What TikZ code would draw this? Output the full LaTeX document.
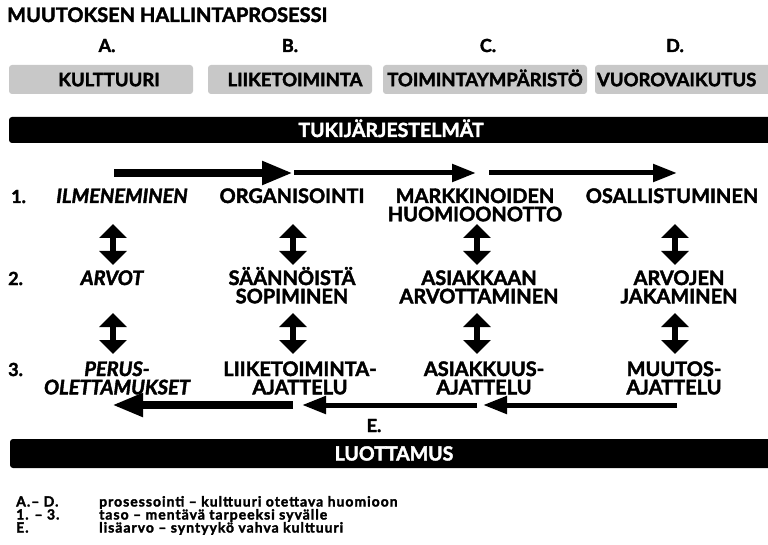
\documentclass[tikz,border=0pt]{standalone}
\usepackage{fontspec}
\setmainfont{Lato}[BoldFeatures={FakeBold=2},BoldItalicFeatures={FakeBold=2}]
\usetikzlibrary{arrows.meta}
\definecolor{boxgray}{RGB}{200,200,200}

\begin{document}
\begin{tikzpicture}[x=1pt,y=-1pt,
	lbl/.style={font=\bfseries\fontsize{20}{18.3}\selectfont, align=center, anchor=base, inner sep=0pt},
	ilbl/.style={lbl, font=\bfseries\itshape\fontsize{20}{18.3}\selectfont},
	num/.style={font=\bfseries\fontsize{18}{18}\selectfont, anchor=base west, inner sep=0pt},
	letter/.style={font=\bfseries\fontsize{18}{18}\selectfont, anchor=base, inner sep=0pt},
	areabox/.style={fill=boxgray, rounded corners=3pt, minimum height=29pt, inner sep=0pt, text height=13.5pt, text depth=0pt, font=\bfseries\fontsize{18.5}{20}\selectfont},
	bar/.style={fill=black, text=white, rounded corners=3pt, inner sep=0pt, text height=14pt, text depth=0pt, font=\bfseries\fontsize{19.5}{20}\selectfont},
	legend/.style={font=\bfseries\fontsize{14}{13}\selectfont\addfontfeature{LetterSpace=7}, anchor=base west, inner sep=0pt},
	bigarrow/.style={line width=8pt, -{Triangle[length=31pt,width=22pt]}},
	arrow/.style={line width=5pt, -{Triangle[length=24pt,width=17pt]}},
	dblarrow/.style={line width=6pt, {Triangle[length=14pt,width=27pt]}-{Triangle[length=14pt,width=27pt]}},
	]
	\useasboundingbox (0,0) rectangle (768,545);

	\node[anchor=base west, inner sep=0pt, font=\bfseries\fontsize{20}{20}\selectfont] (title) at (7,22) {MUUTOKSEN HALLINTAPROSESSI};

	\node[letter] (la) at (107,52) {A.};
	\node[letter] (lb) at (290,52) {B.};
	\node[letter] (lc) at (488,52) {C.};
	\node[letter] (ld) at (675,52) {D.};

	\node[areabox, minimum width=184pt] (kult) at (101,79.5) {\hspace*{16pt}KULTTUURI};
	\node[areabox, minimum width=164pt] (liike) at (290,79.5) {\hspace*{10pt}LIIKETOIMINTA};
	\node[areabox, minimum width=204pt] (toim) at (485,79.5) {TOIMINTAYMPÄRISTÖ};
	\node[areabox, minimum width=204pt, text width=200pt, align=left] (vuoro) at (697,79.5) {VUOROVAIKUTUS};

	\node[bar, minimum width=764pt, minimum height=26pt] (tuki) at (391,130) {TUKIJÄRJESTELMÄT};

	\coordinate (p0) at (114,173);
	\coordinate (p1) at (293,173);
	\coordinate (p2) at (294,173);
	\coordinate (p3) at (476,173);
	\coordinate (p4) at (489,173);
	\coordinate (p5) at (677,173);
	\draw[bigarrow] (p0) -- (p1);
	\draw[arrow] (p2) -- (p3);
	\draw[arrow] (p4) -- (p5);

	\node[num] (n1) at (11,203) {1.};
	\node[ilbl] (ilm) at (122,203) {ILMENEMINEN};
	\node[lbl] (org) at (292,203) {ORGANISOINTI};
	\node[lbl] (mark) at (475,221.3) {MARKKINOIDEN\\HUOMIOONOTTO};
	\node[lbl] (osal) at (672,203) {OSALLISTUMINEN};

	\node[num] (n2) at (8,285) {2.};
	\node[ilbl] (arvot) at (112,285) {ARVOT};
	\node[lbl] (saan) at (292,303.3) {SÄÄNNÖISTÄ\\SOPIMINEN};
	\node[lbl] (asiak) at (479,303.3) {ASIAKKAAN\\ARVOTTAMINEN};
	\node[lbl] (jak) at (679,303.3) {ARVOJEN\\JAKAMINEN};

	\node[num] (n3) at (8,376) {3.};
	\node[ilbl] (perus) at (117,394.3) {PERUS-\\OLETTAMUKSET};
	\node[lbl] (liikeaj) at (300,394.3) {LIIKETOIMINTA-\\AJATTELU};
	\node[lbl] (asiakaj) at (484,394.3) {ASIAKKUUS-\\AJATTELU};
	\node[lbl] (muutaj) at (674,394.3) {MUUTOS-\\AJATTELU};

	\foreach \x [count=\i] in {113,293,477,675} {
		\coordinate (ua\i) at (\x,224);
		\coordinate (ub\i) at (\x,265);
		\coordinate (va\i) at (\x,313);
		\coordinate (vb\i) at (\x,354);
		\draw[dblarrow] (ua\i) -- (ub\i);
		\draw[dblarrow] (va\i) -- (vb\i);
	}

	\coordinate (q0) at (293,405);
	\coordinate (q1) at (112,405);
	\coordinate (q2) at (477,405);
	\coordinate (q3) at (302,405);
	\coordinate (q4) at (677,405);
	\coordinate (q5) at (483,405);
	\draw[bigarrow] (q0) -- (q1);
	\draw[arrow] (q2) -- (q3);
	\draw[arrow] (q4) -- (q5);

	\node[letter] (le) at (374,432) {E.};
	\node[bar, minimum width=768pt, minimum height=29pt] (luot) at (394,453.5) {LUOTTAMUS};

	\node[legend] (k1) at (16,506.5) {A.– D.};
	\node[legend] (t1) at (99,506.5) {prosessointi – kulttuuri otettava huomioon};
	\node[legend] (k2) at (16,519.5) {1. – 3.};
	\node[legend] (t2) at (99,519.5) {taso – mentävä tarpeeksi syvälle};
	\node[legend] (k3) at (16,532.5) {E.};
	\node[legend] (t3) at (99,532.5) {lisäarvo – syntyykö vahva kulttuuri};
\end{tikzpicture}
\end{document}
